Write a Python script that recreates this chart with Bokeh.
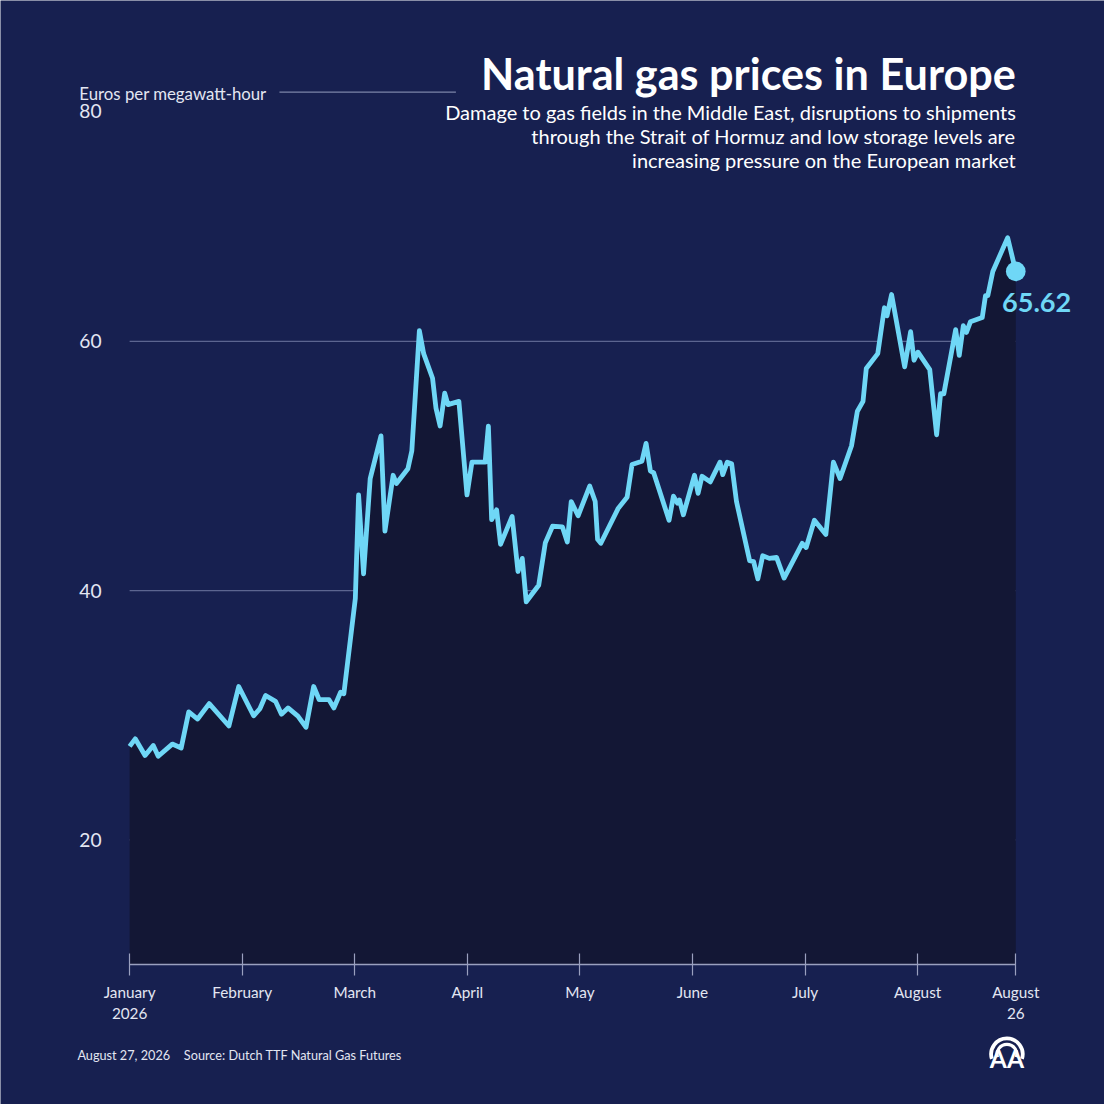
import math
from bokeh.plotting import figure
from bokeh.models import FixedTicker, Label, Range1d
from bokeh.core.properties import value
from bokeh.embed import file_html
from bokeh.resources import INLINE

# ---- data (x = months since 1 January 2026, evenly spaced month axis) ----
months = [0.000, 0.050, 0.137, 0.210, 0.254, 0.379, 0.458, 0.525, 0.604, 0.707,
          0.882, 0.969, 1.101, 1.158, 1.208, 1.296, 1.349, 1.407, 1.495, 1.567,
          1.635, 1.684, 1.771, 1.815, 1.874, 1.903, 2.005, 2.034, 2.078, 2.137,
          2.233, 2.268, 2.341, 2.370, 2.472, 2.507, 2.574, 2.612, 2.691, 2.721,
          2.758, 2.799, 2.828, 2.925, 2.997, 3.041, 3.158, 3.187, 3.216, 3.260,
          3.295, 3.398, 3.450, 3.488, 3.523, 3.634, 3.693, 3.757, 3.844, 3.888,
          3.923, 3.984, 4.087, 4.136, 4.157, 4.186, 4.341, 4.419, 4.463, 4.551,
          4.588, 4.626, 4.656, 4.792, 4.831, 4.866, 4.884, 4.919, 5.018, 5.050,
          5.085, 5.158, 5.245, 5.269, 5.309, 5.348, 5.391, 5.508, 5.543, 5.581,
          5.624, 5.683, 5.747, 5.814, 5.975, 6.010, 6.083, 6.185, 6.252, 6.311,
          6.413, 6.465, 6.515, 6.544, 6.646, 6.705, 6.728, 6.769, 6.885, 6.938,
          6.968, 7.003, 7.108, 7.169, 7.204, 7.233, 7.338, 7.370, 7.406, 7.434,
          7.469, 7.574, 7.603, 7.624, 7.668, 7.800, 7.872]
prices = [27.50, 28.11, 26.77, 27.58, 26.71, 27.69, 27.38, 30.27, 29.70, 30.94,
          29.14, 32.31, 29.96, 30.54, 31.59, 31.12, 30.09, 30.59, 29.93, 29.04,
          32.31, 31.25, 31.25, 30.59, 31.85, 31.73, 39.37, 47.68, 41.35, 48.99,
          52.42, 44.78, 49.26, 48.60, 49.79, 51.23, 60.86, 59.02, 57.04, 54.67,
          53.21, 55.85, 54.93, 55.19, 47.68, 50.31, 50.31, 53.21, 45.70, 46.49,
          43.72, 45.96, 41.54, 42.59, 39.11, 40.43, 43.85, 45.17, 45.12, 43.91,
          47.15, 46.01, 48.39, 47.15, 44.12, 43.80, 46.62, 47.49, 50.12, 50.39,
          51.82, 49.61, 49.45, 45.65, 47.59, 47.02, 47.28, 46.09, 49.26, 47.81,
          49.18, 48.73, 50.31, 49.31, 50.31, 50.18, 47.15, 42.40, 42.33, 40.95,
          42.80, 42.59, 42.67, 41.01, 43.80, 43.46, 45.65, 44.51, 50.31, 49.00,
          51.63, 54.40, 55.19, 57.83, 59.02, 62.70, 62.05, 63.76, 57.96, 60.78,
          58.49, 59.14, 57.73, 52.51, 55.80, 55.80, 60.94, 58.88, 61.26, 60.72,
          61.57, 61.91, 63.68, 63.68, 65.61, 68.32, 65.62]
x_ticks = [0, 1, 2, 3, 4, 5, 6, 7, 7.872]
x_tick_labels = ["January\n2026", "February", "March", "April", "May",
                 "June", "July", "August", "August\n26"]
y_ticks = [20, 40, 60]
y_min = 10
last_label = "65.62"

title_text = "Natural gas prices in Europe"
subtitle_lines = ["Damage to gas fields in the Middle East, disruptions to shipments",
                  "through the Strait of Hormuz and low storage levels are",
                  "increasing pressure on the European market"]
unit_text = "Euros per megawatt-hour"
top_tick_text = "80"
date_text = "August 27, 2026"
source_text = "Source: Dutch TTF Natural Gas Futures"
logo_text = "AA"

# ---- styling ----
BG = "#172050"
FILL = "#131735"
LINE = "#6fd7f6"
GRID = "#5c6590"
AXIS = "#9aa0bf"
TXT = "#ffffff"
SOFT = "#e3e6f2"
FONT = "Lato"

W = H = 1104
S = W / 1120.0                 # design is laid out on a 1120 px grid
PX = 114.2                     # design px per month
PY = 885.0 / 70.0              # design px per euro
X0_REF, Y80_REF = 131, 93      # design pixel of (month 0, 80 euro)

def dx(px):
    return (px - X0_REF) / PX

def dy(py):
    return 80 - (py - Y80_REF) / PY

def fs(size):
    return "%.1fpx" % (size * S)

p = figure(width=W, height=H, output_backend="svg", toolbar_location=None,
           title=None,
           x_range=Range1d(dx(0), dx(1120)),
           y_range=Range1d(dy(1120), dy(0)),
           min_border=0, min_border_left=0, min_border_right=0,
           min_border_top=0, min_border_bottom=0)
p.background_fill_color = BG
p.border_fill_color = BG
p.outline_line_color = None
p.xgrid.visible = False
p.ygrid.visible = False

# x axis, drawn at the bottom of the data area
xa = p.xaxis[0]
xa.fixed_location = y_min
xa.ticker = FixedTicker(ticks=x_ticks)
xa.major_label_overrides = {t: l for t, l in zip(x_ticks, x_tick_labels)}
xa.bounds = (x_ticks[0], x_ticks[-1])
xa.axis_line_color = AXIS
xa.axis_line_width = 1.5
xa.major_tick_line_color = AXIS
xa.major_tick_line_width = 1.2
xa.major_tick_in = 11
xa.major_tick_out = 11
xa.minor_tick_line_color = None
xa.major_label_standoff = 7
xa.major_label_text_color = SOFT
xa.major_label_text_font = FONT
xa.major_label_text_font_size = fs(15.5)

# y axis, at the left edge of the data area
ya = p.yaxis[0]
ya.fixed_location = x_ticks[0]
ya.ticker = FixedTicker(ticks=y_ticks)
ya.axis_line_color = None
ya.major_tick_line_color = None
ya.minor_tick_line_color = None
ya.major_tick_out = 0
ya.major_tick_in = 0
ya.major_label_standoff = 28
ya.major_label_text_color = SOFT
ya.major_label_text_font = FONT
ya.major_label_text_font_size = fs(19.5)

# grid lines (only across the data span)
p.segment(x0=[x_ticks[0]] * len(y_ticks), x1=[x_ticks[-1]] * len(y_ticks),
          y0=y_ticks, y1=y_ticks, line_color=GRID, line_width=1.2)
# header rule next to unit label
p.segment(x0=[dx(283)], x1=[dx(462)], y0=[80], y1=[80], line_color="#7d84a8", line_width=1.3)

# area + line
p.varea(x=months, y1=[y_min] * len(months), y2=prices, fill_color=FILL)
p.line(months, prices, line_color=LINE, line_width=4.8, line_join="round")
p.scatter([months[-1]], [prices[-1]], size=20 * S, fill_color=LINE, line_color=None)
p.text(x=[dx(1016)], y=[dy(306)], text=[last_label], text_color=LINE,
       text_font=value(FONT), text_font_style="bold", text_font_size=fs(27.5),
       text_align="left", text_baseline="middle")

def lab(text, px, py, size, align="left", bold=False, color=TXT):
    p.add_layout(Label(x=dx(px), y=dy(py), text=text, text_color=color,
                       text_font=FONT, text_font_size=fs(size),
                       text_font_style="bold" if bold else "normal",
                       text_align=align, text_baseline="middle"))

lab(title_text, 1030, 74, 43.8, align="right", bold=True)
for i, line in enumerate(subtitle_lines):
    lab(line, 1030, 113 + i * 24.5, 20.3, align="right")
lab(unit_text, 80, 94, 17, color=SOFT)
lab(top_tick_text, 80, 112, 19.5, color=SOFT)
lab(date_text, 78, 1070, 12.9, color=SOFT)
lab(source_text, 186, 1070, 12.9, color=SOFT)

# agency logo: two arcs over the letters
p.arc(x=[dx(1021)] * 2, y=[dy(1069)] * 2, radius=[16 * S, 10 * S], radius_units="screen",
      start_angle=-0.3, end_angle=math.pi + 0.3, line_color=TXT, line_width=[3.8, 3.2])
lab(logo_text, 1021, 1073, 25, align="center", bold=True)

open("out.html", "w").write(file_html(p, INLINE))
